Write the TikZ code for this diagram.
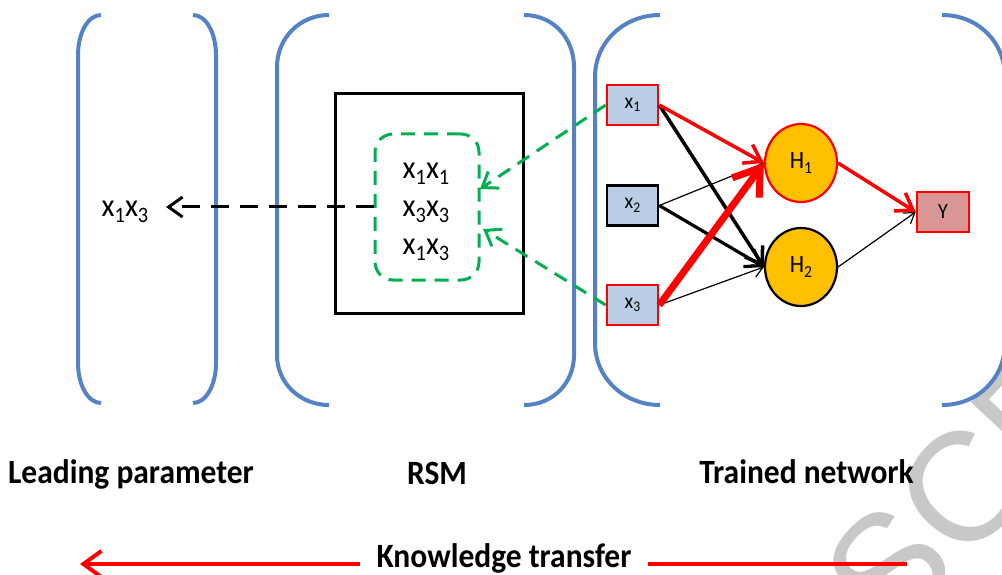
\documentclass[tikz,border=0pt]{standalone}
\usepackage{fontspec}
\usepackage{graphicx}
\setmainfont{Carlito}
\newfontfamily\wmfont{Liberation Sans}
\usetikzlibrary{arrows.meta,shapes.geometric}
\definecolor{brk}{RGB}{84,130,196}
\definecolor{nodeblue}{RGB}{185,205,229}
\definecolor{hidden}{RGB}{255,192,0}
\definecolor{outpink}{RGB}{217,150,148}
\definecolor{dashgreen}{RGB}{0,176,80}
\definecolor{wmgray}{RGB}{200,200,200}
% lowered, reduced index
\newcommand{\idx}[1]{\raisebox{-0.35ex}{\scalebox{0.68}{#1}}}
% slightly tall lettering
\newcommand{\st}[1]{\scalebox{1}[1.08]{#1}}

\begin{document}
\begin{tikzpicture}[x=1pt,y=-1pt,
  bracket/.style={draw=brk, line width=4pt},
  inbox/.style={draw=red, fill=nodeblue, line width=2.6pt, minimum width=51pt,
    minimum height=40pt, inner sep=0pt, font=\fontsize{20}{22}\selectfont},
  hid/.style={ellipse, draw=red, fill=hidden, line width=2.2pt, minimum width=72pt,
    minimum height=78pt, inner sep=0pt, font=\fontsize{23}{25}\selectfont},
  outbox/.style={draw=red, fill=outpink, line width=2.6pt, minimum width=52pt,
    minimum height=40pt, inner sep=0pt, font=\fontsize{20}{22}\selectfont},
  tip/.style={-{Straight Barb[length=7pt 2.5, width=9pt 3.5]}},
  caption/.style={font=\fontsize{31.5}{36}\bfseries\selectfont, anchor=base, inner sep=0pt},
  term/.style={font=\fontsize{30}{38}\selectfont, inner sep=0pt, align=center},
  greendash/.style={draw=dashgreen, line width=3pt, dash pattern=on 14pt off 9pt},
  wm/.style={font=\wmfont\fontsize{155}{155}\selectfont, text=wmgray, rotate=47, inner sep=0pt}
]
\useasboundingbox (0,0) rectangle (1002,575);
\clip (0,0) rectangle (1002,575);

% watermark lettering
\node[wm, anchor=base] (wmS) at (928,605) {S};
\node[wm, anchor=base west] (wmC) at (wmS.base east) {C};
\node[wm, anchor=base west] (wmR) at (wmC.base east) {R};
\node[wm, anchor=base east] (wmU) at (wmS.base west) {U};

% leading parameter brackets
\draw[bracket] (101,15) .. controls (88,15) and (78,33) .. (78,55) -- (78,363)
  .. controls (78,385) and (88,403) .. (101,403);
\draw[bracket] (193,15) .. controls (206,15) and (216,33) .. (216,55) -- (216,363)
  .. controls (216,385) and (206,403) .. (193,403);
% RSM brackets
\draw[bracket] (329,15) .. controls (300,15) and (277,38) .. (277,67) -- (277,355)
  .. controls (277,383) and (300,405) .. (329,405);
\draw[bracket] (524,15) .. controls (553,15) and (574,38) .. (574,67) -- (574,355)
  .. controls (574,383) and (553,405) .. (524,405);
% trained network brackets
\draw[bracket] (660,15) .. controls (624,15) and (595,42) .. (595,77) -- (595,343)
  .. controls (595,378) and (624,405) .. (660,405);
\draw[bracket] (942,15) .. controls (978,15) and (1005,42) .. (1005,77) -- (1005,343)
  .. controls (1005,378) and (978,405) .. (942,405);

% response surface block
\node[draw, line width=3pt, minimum width=188pt, minimum height=220pt, inner sep=0pt]
  (rsm) at (429.5,203.5) {};
\node[greendash, rounded corners=18pt, minimum width=104pt, minimum height=146pt, inner sep=0pt]
  (terms) at (427,207) {};
\node[term] (termlist) at (426,212)
  {\st{x\idx{1}x\idx{1}}\\ \st{x\idx{3}x\idx{3}}\\ \st{x\idx{1}x\idx{3}}};

% selected parameter
\node[term] (lead) at (125,212) {\st{x\idx{1}x\idx{3}}};
\coordinate (leadtip) at (166,207);
\draw[line width=3pt, dash pattern=on 18pt off 11pt,
  -{Straight Barb[length=14pt, width=20pt]}] (terms.west |- leadtip) -- (leadtip);

% network nodes
\node[inbox] (x1) at (632.5,105) {\st{x\idx{1}}};
\node[inbox, draw=black] (x2) at (632.5,205.5) {\st{x\idx{2}}};
\node[inbox] (x3) at (632.5,305) {\st{x\idx{3}}};
\node[hid] (H1) at (801,163) {\st{H\idx{1}}};
\node[hid, draw=black] (H2) at (801,267) {\st{H\idx{2}}};
\node[outbox] (Y) at (943,212) {\st{Y}};

% terms picked from the inputs
\coordinate (g1) at (480,189);
\coordinate (g3) at (483,229);
\draw[greendash, -{Straight Barb[length=14pt, width=20pt]}] (x1.west) -- (g1);
\draw[greendash, -{Straight Barb[length=14pt, width=20pt]}] (x3.west) -- (g3);

% weighted connections
\draw[tip, black, line width=1.2pt] (x2.east) -- (H1.west);
\draw[tip, black, line width=1.2pt] (x3.east) -- (H2.west);
\draw[tip, black, line width=3.2pt] (x2.east) -- (H2.west);
\draw[tip, black, line width=3.5pt] (x1.east) -- (H2.west);
\draw[tip, red, line width=3.5pt] (x1.east) -- (H1.west);
\draw[tip, red, line width=7pt] (x3.east) -- (H1.west);
\draw[tip, black, line width=1.2pt] (H2.east) -- (Y.west);
\draw[tip, red, line width=3.5pt] (H1.east) -- (Y.west);

% captions
\node[caption] (capL) at (131,483) {\st{Leading parameter}};
\node[caption] (capR) at (437,484) {\st{RSM}};
\node[caption] (capT) at (806.5,483) {\st{Trained network}};
\node[caption] (capK) at (504,567) {\st{Knowledge transfer}};

% transfer direction
\coordinate (ktail) at (907,564);
\coordinate (khead) at (80,564);
\draw[red, line width=4pt] (ktail) -- ([xshift=16pt]capK.east |- ktail);
\draw[red, line width=4pt, -{Straight Barb[length=18pt, width=26pt]}]
  ([xshift=-16pt]capK.west |- khead) -- (khead);
\end{tikzpicture}
\end{document}
